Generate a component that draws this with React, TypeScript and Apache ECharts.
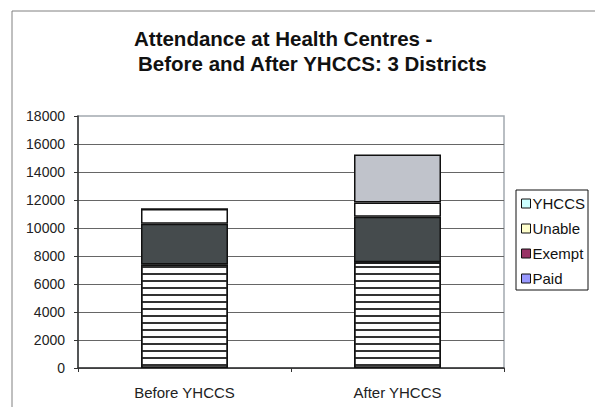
import React, { useEffect, useRef } from "react";
import * as echarts from "echarts";

const categories = ["Before YHCCS", "After YHCCS"];
const paid = [7400, 7550];
const exempt = [2900, 3250];
const unable = [1050, 1030];
const yhccs = [0, 3420];
const titleLines = ["Attendance at Health Centres -", "Before and After YHCCS: 3 Districts"];

const FONT = "'Liberation Sans', Arial, sans-serif";

export default function App() {
  const ref = useRef<HTMLDivElement>(null);
  useEffect(() => {
    if (!ref.current) return;
    const chart = echarts.init(ref.current, undefined, { renderer: "svg" });
    const border = { borderColor: "#111", borderWidth: 1.5 };
    const titleStyle = { fontFamily: FONT, fontSize: 20.5, fontWeight: "bold", color: "#111", lineHeight: 20 };
    chart.setOption({
      animation: false,
      backgroundColor: "#fff",
      textStyle: { fontFamily: FONT },
      title: [
        { text: titleLines[0], left: 134, top: 28, padding: 0, textStyle: titleStyle },
        { text: titleLines[1], left: 138, top: 53, padding: 0, textStyle: titleStyle },
      ],
      graphic: [
        {
          type: "rect",
          shape: { x: 12, y: 11, width: 620, height: 440 },
          style: { fill: "none", stroke: "#808080", lineWidth: 1 },
          silent: true,
        },
      ],
      legend: {
        orient: "vertical",
        left: 516,
        top: 190,
        width: 76,
        borderColor: "#111",
        borderWidth: 1,
        padding: [6, 3, 4, 5],
        itemGap: 10,
        itemWidth: 9,
        itemHeight: 9,
        icon: "rect",
        textStyle: { fontFamily: FONT, fontSize: 15, color: "#111", padding: [0, 0, 0, -3] },
        data: [
          { name: "YHCCS", itemStyle: { color: "#ccffff", borderColor: "#111", borderWidth: 1, decal: "none" } },
          { name: "Unable", itemStyle: { color: "#ffffcc", borderColor: "#111", borderWidth: 1 } },
          { name: "Exempt", itemStyle: { color: "#993366", borderColor: "#111", borderWidth: 1 } },
          { name: "Paid", itemStyle: { color: "#9999ff", borderColor: "#111", borderWidth: 1, decal: "none" } },
        ],
      },
      grid: {
        left: 78,
        right: 91,
        top: 116,
        bottom: 39,
        show: true,
        borderColor: "#a3a9b0",
        borderWidth: 1.5,
        containLabel: false,
      },
      xAxis: {
        type: "category",
        data: categories,
        axisLine: { lineStyle: { color: "#333", width: 1.5 } },
        axisTick: { show: true, length: 4, lineStyle: { color: "#333" } },
        axisLabel: { fontFamily: FONT, fontSize: 15, color: "#222", margin: 17 },
      },
      yAxis: {
        type: "value",
        min: 0,
        max: 18000,
        interval: 2000,
        axisLine: { show: true, lineStyle: { color: "#333", width: 1.5 } },
        axisTick: { show: true, length: 4, lineStyle: { color: "#333" } },
        axisLabel: {
          fontFamily: FONT,
          fontSize: 14,
          color: "#222",
          margin: 13,
          formatter: (v: number) => String(v),
        },
        splitLine: { show: true, showMaxLine: false, lineStyle: { color: "#666", width: 1.2 } },
      },
      series: [
        {
          name: "Paid",
          type: "bar",
          stack: "total",
          barWidth: 87,
          data: paid,
          itemStyle: {
            color: "#ffffff",
            ...border,
            decal: {
              symbol: "rect",
              symbolSize: 1,
              dashArrayX: [1, 0],
              dashArrayY: [1.6, 4.2],
              rotation: 0,
              color: "#333",
            },
          },
        },
        {
          name: "Exempt",
          type: "bar",
          stack: "total",
          barWidth: 87,
          data: exempt,
          itemStyle: { color: "#454b4d", ...border },
        },
        {
          name: "Unable",
          type: "bar",
          stack: "total",
          barWidth: 87,
          data: unable,
          itemStyle: { color: "#ffffff", ...border },
        },
        {
          name: "YHCCS",
          type: "bar",
          stack: "total",
          barWidth: 87,
          data: yhccs,
          itemStyle: { color: "#c0c3cb", ...border },
        },
      ],
    });
    return () => chart.dispose();
  }, []);
  return <div ref={ref} style={{ width: 595, height: 407, position: "absolute", left: 0, top: 0 }} />;
}
